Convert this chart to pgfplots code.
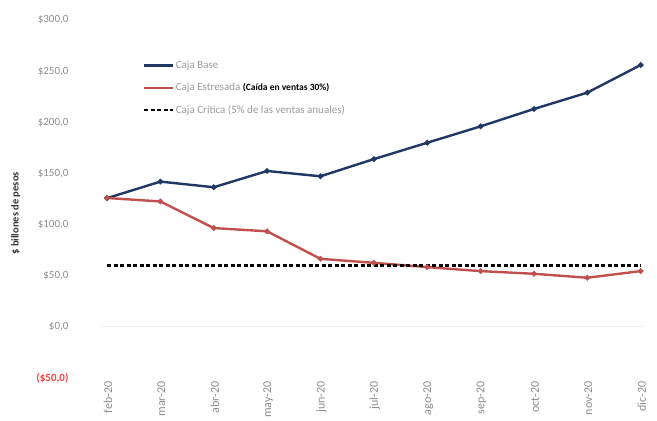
\documentclass[border=0pt]{standalone}
\usepackage{pgfplots}
\pgfplotsset{compat=1.18}
\usepackage{fontspec}
\setmainfont{Carlito}
\definecolor{base}{HTML}{1F3864}
\definecolor{estres}{HTML}{C0504D}
\definecolor{tickgray}{HTML}{8C8C8C}
\definecolor{leggray}{HTML}{9A9A9A}
\begin{document}
\begin{tikzpicture}
\path[use as bounding box, clip] (-99pt,-43pt) rectangle (558pt,378pt);
\begin{axis}[
  scale only axis,
  width=547pt, height=358pt,
  at={(0,0)}, anchor=south west,
  xmin=-0.15, xmax=10.1,
  ymin=-50, ymax=300,
  axis line style={draw=none},
  major tick length=0pt,
  xtick={0,...,10},
  xticklabels={feb-20,mar-20,abr-20,may-20,jun-20,jul-20,ago-20,sep-20,oct-20,nov-20,dic-20},
  xticklabel style={rotate=90, anchor=east, text=tickgray, font=\fontsize{12}{14}\selectfont, yshift=-1pt},
  ytick={-50,0,50,100,150,200,250,300},
  yticklabels={{\textcolor{red!75!white}{\textbf{(\$50,0)}}},{\$0,0},{\$50,0},{\$100,0},{\$150,0},{\$200,0},{\$250,0},{\$300,0}},
  yticklabel style={text=tickgray, font=\fontsize{11}{13}\selectfont, xshift=-27pt},
  /pgf/number format/assume math mode=true,
  extra y ticks={0},
  extra y tick labels={},
  extra y tick style={grid=major, grid style={black!6, line width=1pt}},
  ylabel={\$ billones de pesos},
  ylabel style={font=\fontsize{10.5}{12}\selectfont\bfseries, text=black!80, at={(axis description cs:-0.152,0.46)}, anchor=center},
  legend style={draw=none, fill=none, at={(axis description cs:0.08,0.897)}, anchor=north west,
    font=\fontsize{11}{13}\selectfont, text=leggray, row sep=9pt, inner xsep=0pt},
  legend cell align=left,
  legend image code/.code={\draw[#1] (0cm,0cm) -- (1cm,0cm);},
]
\addplot[base, line width=2.4pt, mark=*, mark size=1.4pt] coordinates {
(0,125.8) (1,142) (2,136.5) (3,152.4) (4,147.2) (5,164) (6,180) (7,196) (8,213) (9,229) (10,256)};
\addlegendentry{Caja Base}
\addplot[estres, line width=2.4pt, mark=*, mark size=1.4pt] coordinates {
(0,126) (1,122.6) (2,96.6) (3,93.4) (4,66.5) (5,62.6) (6,58.4) (7,54.5) (8,51.9) (9,48) (10,54.5)};
\addlegendentry{Caja Estresada \textcolor{black}{\textbf{\fontsize{9.5}{11}\selectfont(Caída en ventas 30\%)}}}
\addplot[black, line width=2.2pt, dash pattern=on 4pt off 2.5pt] coordinates {
(0,60) (1,60) (2,60) (3,60) (4,60) (5,60) (6,60) (7,60) (8,60) (9,60) (10,60)};
\addlegendentry{Caja Crítica (5\% de las ventas anuales)}
\end{axis}
\end{tikzpicture}
\end{document}
